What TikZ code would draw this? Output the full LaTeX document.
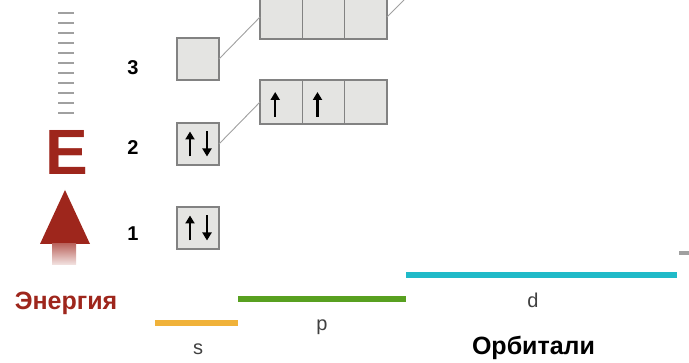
\documentclass[tikz,border=0pt]{standalone}
\usepackage{fontspec}
\setmainfont{Liberation Sans}
\usepackage{tikz}
\usetikzlibrary{positioning,
                arrows.meta}                % arrow tips

\definecolor{enred}{RGB}{158,38,28}
\definecolor{boxfill}{RGB}{228,228,226}
\definecolor{boxline}{RGB}{130,130,130}
\definecolor{linkgray}{RGB}{160,160,160}
\definecolor{sline}{RGB}{240,178,58}
\definecolor{pline}{RGB}{88,160,32}
\definecolor{dline}{RGB}{32,186,200}

\tikzset{
    cell/.style={draw=boxline, fill=boxfill, line width=1.2pt,
                 minimum width=42.3pt, minimum height=44pt,
                 inner sep=0pt, outer sep=0pt},
    sbox/.style={cell, minimum width=42pt, minimum height=42pt},
    spin/.style={line width=2.4pt, -{Triangle[length=8pt, width=9pt]}},
    link/.style={draw=linkgray, line width=0.9pt},
    level/.style={line width=6pt},
    num/.style={font=\bfseries\fontsize{20}{20}\selectfont},
}

\begin{document}
\begin{tikzpicture}[x=1pt, y=-1pt]
    \useasboundingbox (0,0) rectangle (689,363);
    \clip (0,0) rectangle (689,363);

    % energy scale
    \foreach \i in {0,...,10}{
        \draw[linkgray, line width=2pt] (58,12.7+10*\i) -- (74,12.7+10*\i);
    }
    \node[text=enred, font=\bfseries\fontsize{64}{64}\selectfont] (E) at (67,152.5) {E};
    \fill[enred] (65,190) -- (90,244) -- (40,244) -- cycle;
    \shade[top color=enred!70, bottom color=enred!12] (52,244) rectangle (76,265);
    \node[text=enred, anchor=base, font=\bfseries\fontsize{25}{25}\selectfont] (energy) at (66,310) {Энергия};

    % shell numbers
    \node[num] (n3) at (133,68) {3};
    \node[num] (n2) at (133,148) {2};
    \node[num] (n1) at (133,234) {1};

    % s boxes
    \node[sbox] (s3) at (198,59) {};
    \node[sbox] (s2) at (198,144) {};
    \node[sbox] (s1) at (198,228) {};

    % p rows
    \node[cell] (p2a) at (281.2,102) {};
    \node[cell, right=0pt of p2a] (p2b) {};
    \node[cell, right=0pt of p2b] (p2c) {};
    \node[cell] (p3a) at (281.2,17) {};
    \node[cell, right=0pt of p3a] (p3b) {};
    \node[cell, right=0pt of p3b] (p3c) {};
    \coordinate (d3) at (404,0);

    \draw[link] (s3.east) -- (p3a.west);
    \draw[link] (s2.east) -- (p2a.west);
    \draw[link] (p3c.east) -- (d3);

    % electrons
    \foreach \b in {s1,s2}{
        \draw[spin] ([xshift=-8pt, yshift=-12.5pt]\b.center) -- ([xshift=-8pt, yshift=12.5pt]\b.center);
        \draw[spin] ([xshift=9pt, yshift=12.5pt]\b.center) -- ([xshift=9pt, yshift=-12.5pt]\b.center);
    }
    \foreach \b in {p2a,p2b}{
        \draw[spin] ([xshift=-6pt, yshift=-15pt]\b.center) -- ([xshift=-6pt, yshift=10pt]\b.center);
    }

    % sublevels
    \draw[level, sline] (155,323) -- (238,323);
    \draw[level, pline] (238,299) -- (406,299);
    \draw[level, dline] (406,275) -- (677,275);
    \draw[level, linkgray, line width=4pt] (679,253) -- (689,253);

    \node[anchor=base, text=black!75, font=\fontsize{20}{20}\selectfont] (s) at (198,355) {s};
    \node[anchor=base, text=black!75, font=\fontsize{20}{20}\selectfont] (p) at (322,331) {p};
    \node[anchor=base, text=black!75, font=\fontsize{20}{20}\selectfont] (d) at (533,308) {d};
    \node[anchor=base, font=\bfseries\fontsize{25}{25}\selectfont] (orb) at (533.5,355) {Орбитали};
\end{tikzpicture}
\end{document}
